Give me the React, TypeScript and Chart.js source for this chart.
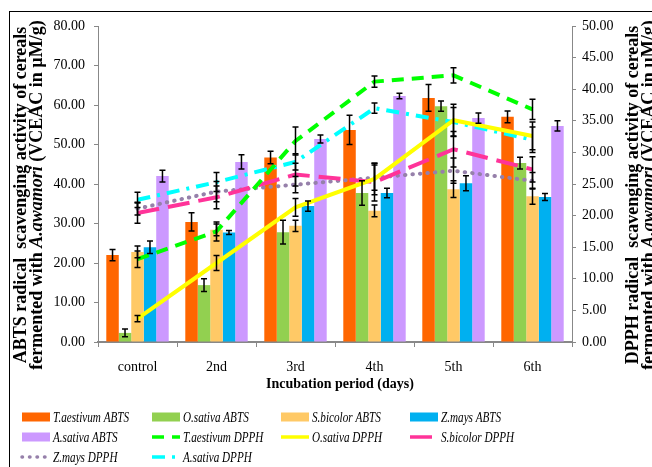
import React, { useEffect, useRef } from 'react';
import { Chart, registerables } from 'chart.js';

Chart.register(...registerables);

const categories = ['control', '2nd', '3rd', '4th', '5th', '6th'];

// ABTS (left axis)
const tAestivumABTS = [22.0, 30.4, 46.7, 53.7, 61.8, 57.0];
const tAestivumABTSErr = [1.4, 2.3, 1.6, 3.7, 3.4, 1.5];
const oSativaABTS = [2.3, 14.4, 27.8, 37.7, 59.7, 45.3];
const oSativaABTSErr = [1.0, 1.6, 3.0, 3.1, 1.3, 1.5];
const sBicolorABTS = [22.8, 28.4, 29.4, 33.2, 38.7, 36.9];
const sBicolorABTSErr = [1.5, 1.5, 1.4, 1.5, 2.1, 2.0];
const zMaysABTS = [24.0, 27.7, 34.4, 37.7, 40.2, 36.7];
const zMaysABTSErr = [1.6, 0.5, 1.3, 1.2, 1.9, 0.9];
const aSativaABTS = [42.0, 45.6, 51.4, 62.3, 56.7, 54.7];
const aSativaABTSErr = [1.5, 1.8, 1.0, 0.7, 1.3, 1.3];

// DPPH (right axis)
const tAestivumDPPH = [13.1, 17.5, 31.8, 41.2, 42.2, 36.8];
const tAestivumDPPHErr = [1.3, 1.5, 2.2, 0.9, 1.2, 1.6];
const oSativaDPPH = [3.7, 12.5, 21.3, 25.8, 35.1, 32.6];
const oSativaDPPHErr = [0.5, 1.2, 1.4, 2.5, 2.5, 2.2];
const sBicolorDPPH = [20.4, 22.9, 26.5, 25.3, 30.5, 27.3];
const sBicolorDPPHErr = [1.6, 1.8, 1.8, 3.0, 2.8, 2.0];
const zMaysDPPH = [21.1, 23.8, 24.9, 26.0, 27.1, 25.5];
const zMaysDPPHErr = [1.0, 1.6, 1.3, 2.0, 2.0, 1.3];
const aSativaDPPH = [22.5, 25.3, 28.5, 37.0, 34.8, 32.0];
const aSativaDPPHErr = [1.2, 1.5, 1.3, 0.8, 2.3, 2.0];

const leftTicks = [0, 10, 20, 30, 40, 50, 60, 70, 80];
const rightTicks = [0, 5, 10, 15, 20, 25, 30, 35, 40, 45, 50];

const FONT = '"Liberation Serif", "Times New Roman", serif';

export default function App() {
  const ref = useRef<HTMLCanvasElement>(null);

  useEffect(() => {
    document.body.style.margin = '0';
    const canvas = ref.current as HTMLCanvasElement;

    const errorBars = {
      id: 'errorBars',
      afterDatasetsDraw(chart: any) {
        const ctx = chart.ctx;
        ctx.save();
        ctx.strokeStyle = '#000';
        ctx.lineWidth = 1.5;
        ctx.setLineDash([]);
        chart.data.datasets.forEach((ds: any, i: number) => {
          const meta = chart.getDatasetMeta(i);
          const sc = chart.scales[ds.yAxisID];
          (ds.errors || []).forEach((e: number, j: number) => {
            const el = meta.data[j];
            if (!el) return;
            const v = ds.data[j];
            const x = el.x;
            const y1 = sc.getPixelForValue(v + e);
            const y2 = sc.getPixelForValue(v - e);
            ctx.beginPath();
            ctx.moveTo(x, y1);
            ctx.lineTo(x, y2);
            ctx.moveTo(x - 3, y1);
            ctx.lineTo(x + 3, y1);
            ctx.moveTo(x - 3, y2);
            ctx.lineTo(x + 3, y2);
            ctx.stroke();
          });
        });
        ctx.restore();
      },
    };

    const drawRotated = (
      ctx: CanvasRenderingContext2D,
      x: number,
      cy: number,
      parts: { t: string; italic?: boolean }[],
      size: number
    ) => {
      ctx.save();
      ctx.translate(x, cy);
      ctx.rotate(-Math.PI / 2);
      ctx.textBaseline = 'alphabetic';
      ctx.textAlign = 'left';
      ctx.fillStyle = '#000';
      let total = 0;
      const widths = parts.map((p) => {
        ctx.font = `${p.italic ? 'italic ' : ''}bold ${size}px ${FONT}`;
        const w = ctx.measureText(p.t).width;
        total += w;
        return w;
      });
      let cx = -total / 2;
      parts.forEach((p, k) => {
        ctx.font = `${p.italic ? 'italic ' : ''}bold ${size}px ${FONT}`;
        ctx.fillText(p.t, cx, 0);
        cx += widths[k];
      });
      ctx.restore();
    };

    const decor = {
      id: 'decor',
      afterDraw(chart: any) {
        const ctx: CanvasRenderingContext2D = chart.ctx;
        ctx.save();
        // outer frame
        ctx.strokeStyle = '#000';
        ctx.lineWidth = 1;
        ctx.setLineDash([]);
        ctx.strokeRect(9.5, 11.5, 800, 600);

        // axis titles
        const ca = chart.chartArea;
        const cy = 195;
        drawRotated(ctx, 26, cy, [{ t: 'ABTS radical  scavenging activity of cereals' }], 18);
        drawRotated(
          ctx,
          42,
          cy,
          [{ t: 'fermented with ' }, { t: 'A.awamori', italic: true }, { t: ' (VCEAC in µM/g)' }],
          18
        );
        drawRotated(ctx, 638, cy, [{ t: 'DPPH radical  scavenging activity of cereals' }], 18);
        drawRotated(
          ctx,
          654,
          cy,
          [{ t: 'fermented with ' }, { t: 'A.awamori', italic: true }, { t: ' (VCEAC in µM/g)' }],
          18
        );

        ctx.font = `bold 14px ${FONT}`;
        ctx.textAlign = 'center';
        ctx.textBaseline = 'middle';
        ctx.fillStyle = '#000';
        ctx.fillText('Incubation period (days)', (ca.left + ca.right) / 2 + 5, 384);

        // legend
        const cols = [22, 152, 281, 410];
        const rows = [417, 437, 457];
        chart.data.datasets.forEach((ds: any, i: number) => {
          const x = cols[i % 4];
          const y = rows[Math.floor(i / 4)];
          if (ds.type === 'bar') {
            ctx.fillStyle = ds.backgroundColor;
            ctx.fillRect(x, y - 4.5, 28, 9);
          } else {
            ctx.strokeStyle = ds.borderColor;
            ctx.lineWidth = 3.5;
            ctx.lineCap = ds.borderCapStyle || 'butt';
            ctx.setLineDash(ds.borderDash || []);
            ctx.beginPath();
            ctx.moveTo(x, y);
            ctx.lineTo(x + 28, y);
            ctx.stroke();
            ctx.setLineDash([]);
            ctx.lineCap = 'butt';
          }
          ctx.save();
          ctx.translate(x + 31, y);
          ctx.scale(0.72, 1);
          ctx.font = `italic 15.5px ${FONT}`;
          ctx.textAlign = 'left';
          ctx.textBaseline = 'middle';
          ctx.fillStyle = '#000';
          ctx.fillText(ds.label, 0, 1);
          ctx.restore();
        });
        ctx.restore();
      },
    };

    const barDs = (label: string, data: number[], errors: number[], color: string) => ({
      type: 'bar' as const,
      label,
      data,
      errors,
      backgroundColor: color,
      borderWidth: 0,
      yAxisID: 'y',
      order: 2,
      categoryPercentage: 0.79,
      barPercentage: 1.0,
    });
    const lineDs = (
      label: string,
      data: number[],
      errors: number[],
      color: string,
      dash: number[],
      cap: string = 'butt'
    ) => ({
      type: 'line' as const,
      label,
      data,
      errors,
      borderColor: color,
      backgroundColor: color,
      borderWidth: 4,
      borderDash: dash,
      borderCapStyle: cap,
      pointRadius: 0,
      tension: 0,
      fill: false,
      yAxisID: 'y1',
      order: 1,
    });

    const chart = new Chart(canvas, {
      type: 'bar',
      data: {
        labels: categories,
        datasets: [
          barDs('T.aestivum ABTS', tAestivumABTS, tAestivumABTSErr, '#FF6600'),
          barDs('O.sativa ABTS', oSativaABTS, oSativaABTSErr, '#92D050'),
          barDs('S.bicolor ABTS', sBicolorABTS, sBicolorABTSErr, '#FFC966'),
          barDs('Z.mays ABTS', zMaysABTS, zMaysABTSErr, '#00B0F0'),
          barDs('A.sativa ABTS', aSativaABTS, aSativaABTSErr, '#CC99FF'),
          lineDs('T.aestivum DPPH', tAestivumDPPH, tAestivumDPPHErr, '#00FF00', [12, 8]),
          lineDs('O.sativa DPPH', oSativaDPPH, oSativaDPPHErr, '#FFFF00', []),
          lineDs('S.bicolor DPPH', sBicolorDPPH, sBicolorDPPHErr, '#FF3399', [22, 9]),
          lineDs('Z.mays DPPH', zMaysDPPH, zMaysDPPHErr, '#9680AA', [0.5, 7], 'round'),
          lineDs('A.sativa DPPH', aSativaDPPH, aSativaDPPHErr, '#00FFFF', [13, 7, 3, 7]),
        ] as any,
      },
      options: {
        responsive: false,
        animation: false,
        devicePixelRatio: 1,
        layout: { padding: { top: 26, left: 0, right: 0, bottom: 0 } },
        plugins: {
          legend: { display: false },
          title: { display: false },
          tooltip: { enabled: false },
        },
        scales: {
          x: {
            type: 'category',
            offset: true,
            grid: {
              display: true,
              offset: true,
              drawOnChartArea: false,
              drawTicks: true,
              tickLength: 5,
              color: '#888',
            },
            border: { display: true, color: '#888', width: 2 },
            ticks: {
              color: '#000',
              font: { family: FONT, size: 14 },
              padding: 12,
              maxRotation: 0,
            },
            afterFit: (s: any) => {
              s.height = 125;
            },
          },
          y: {
            type: 'linear',
            position: 'left',
            min: leftTicks[0],
            max: leftTicks[leftTicks.length - 1],
            afterBuildTicks: (s: any) => {
              s.ticks = leftTicks.map((v) => ({ value: v }));
            },
            grid: { display: true, drawOnChartArea: false, tickLength: 4, color: '#888' },
            border: { display: true, color: '#888', width: 1 },
            ticks: {
              color: '#000',
              font: { family: FONT, size: 14 },
              padding: 9,
              callback: (v: any) => Number(v).toFixed(2),
            },
            afterFit: (s: any) => {
              s.width = 98;
            },
          },
          y1: {
            type: 'linear',
            position: 'right',
            min: rightTicks[0],
            max: rightTicks[rightTicks.length - 1],
            afterBuildTicks: (s: any) => {
              s.ticks = rightTicks.map((v) => ({ value: v }));
            },
            grid: { display: true, drawOnChartArea: false, tickLength: 4, color: '#888' },
            border: { display: true, color: '#888', width: 1 },
            ticks: {
              color: '#000',
              font: { family: FONT, size: 14 },
              padding: 6,
              callback: (v: any) => Number(v).toFixed(2),
            },
            afterFit: (s: any) => {
              s.width = 80;
            },
          },
        },
      } as any,
      plugins: [errorBars, decor],
    });

    return () => chart.destroy();
  }, []);

  return (
    <canvas
      ref={ref}
      width={652}
      height={467}
      style={{ display: 'block', width: 652, height: 467 }}
    />
  );
}
